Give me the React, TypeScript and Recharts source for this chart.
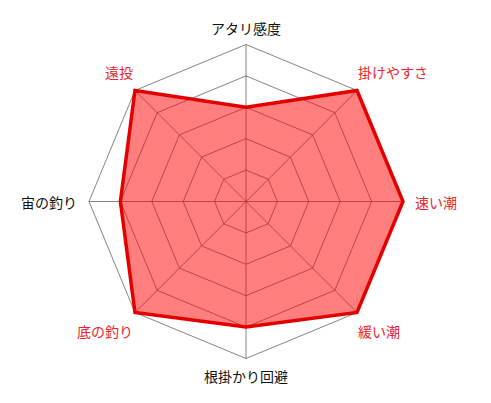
import { RadarChart, Radar, PolarGrid, PolarAngleAxis, PolarRadiusAxis } from 'recharts';

const axes = ['アタリ感度', '掛けやすさ', '速い潮', '緩い潮', '根掛かり回避', '底の釣り', '宙の釣り', '遠投'];
const scores = [3, 5, 5, 5, 4, 5, 4, 5];
const maxScore = 5;

const data = axes.map((name, i) => ({ name, score: scores[i] }));

const CX = 246;
const CY = 201.5;
const R = 157;

function AxisLabel({ payload }: any) {
  const idx = axes.indexOf(payload.value);
  const highlight = scores[idx] === maxScore;
  const rad = (payload.coordinate * Math.PI) / 180;
  const cos = Math.cos(rad);
  const sin = Math.sin(rad);
  let x = CX;
  let y = CY;
  let anchor: 'start' | 'middle' | 'end' = 'middle';
  if (Math.abs(cos) < 0.1) {
    y = CY - sin * (R + 17);
  } else if (Math.abs(sin) < 0.1) {
    x = CX + cos * (R + 12);
    anchor = cos > 0 ? 'start' : 'end';
  } else {
    x = CX + cos * R + (cos > 0 ? 1 : -2);
    y = CY - sin * R - Math.sign(sin) * 18.5;
    anchor = cos > 0 ? 'start' : 'end';
  }
  return (
    <text
      x={x}
      y={y}
      textAnchor={anchor}
      dominantBaseline="central"
      fontSize={14}
      fontFamily="'Noto Sans CJK JP', sans-serif"
      fill={highlight ? '#e8262b' : '#111'}
    >
      {payload.value}
    </text>
  );
}

export default function App() {
  return (
    <div style={{ position: 'absolute', left: 0, top: 0, width: 491, height: 403, background: '#fff' }}>
      <RadarChart width={491} height={403} data={data} cx={CX} cy={CY} outerRadius={R}
        margin={{ top: 0, right: 0, bottom: 0, left: 0 }}>
        <PolarGrid gridType="polygon" stroke="#666" strokeWidth={0.8} />
        <PolarAngleAxis dataKey="name" tick={<AxisLabel />} tickLine={false} axisLine={false} />
        <PolarRadiusAxis domain={[0, maxScore]} tickCount={6} tick={false} axisLine={false} />
        <Radar
          dataKey="score"
          stroke="#e30000"
          strokeWidth={3.5}
          fill="#ff0000"
          fillOpacity={0.5}
          strokeLinejoin="miter"
          isAnimationActive={false}
        />
      </RadarChart>
    </div>
  );
}
